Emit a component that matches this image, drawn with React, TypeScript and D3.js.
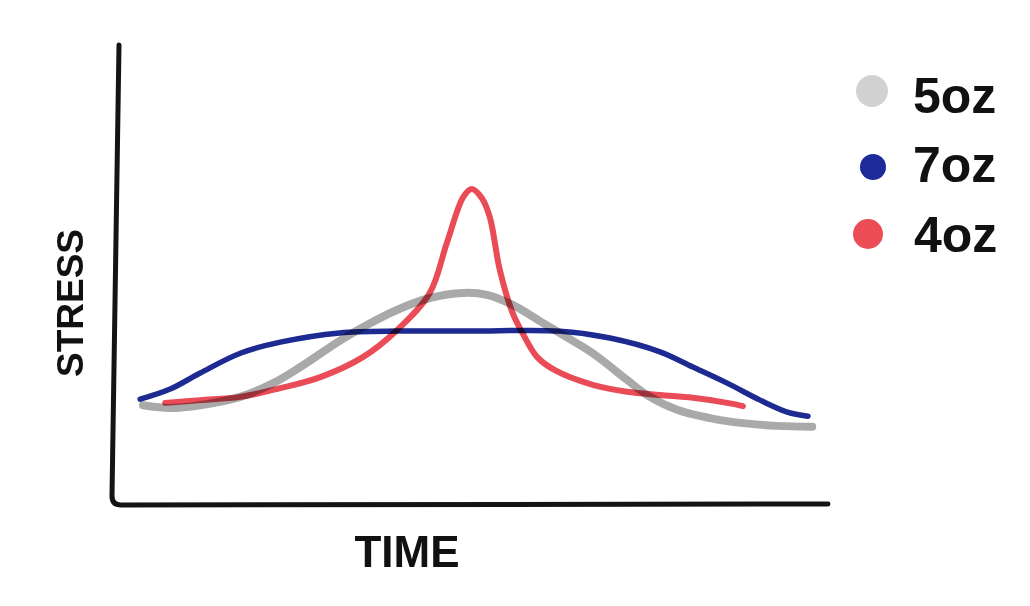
import React from "react";
import * as d3 from "d3";

// Time (0-100) and stress (0-100)
const series7ozTime = [3.8, 8, 12.2, 17.8, 23.4, 31.7, 40.1, 49.9, 62.5, 69.5, 76.5, 81.1, 85.9, 90.5, 94.3, 97.2];
const series7ozStress = [23.0, 25.2, 28.7, 33.0, 35.4, 37.4, 37.8, 37.8, 37.8, 36.3, 33.3, 30.0, 26.5, 22.8, 20.2, 19.3];

const series5ozTime = [4.2, 8.0, 12.2, 17.8, 22.4, 26.2, 31.7, 35.0, 39.7, 44.3, 49.0, 52.3, 55.9, 60.1, 63.2, 67.1, 71.9, 74.7, 78.9, 83.5, 88.1, 92.9, 97.8];
const series5ozStress = [21.7, 21.1, 21.7, 23.5, 26.5, 30.0, 35.7, 38.7, 42.4, 45.0, 46.1, 45.7, 43.5, 39.6, 36.7, 33.0, 27.2, 23.9, 20.7, 18.9, 17.8, 17.2, 17.0];

const series4ozTime = [7.3, 12.2, 17.8, 23.4, 29.0, 35.0, 39.7, 44.3, 46.7, 49.0, 50.2, 51.6, 52.7, 54.1, 55.9, 57.2, 59.3, 61.8, 67.1, 71.9, 76.5, 81.1, 85.9, 88.1];
const series4ozStress = [22.2, 22.8, 23.5, 25.4, 27.8, 32.2, 38.0, 46.1, 57.0, 67.0, 68.7, 66.7, 62.6, 51.1, 41.7, 37.6, 32.2, 29.3, 26.1, 24.6, 23.9, 23.3, 22.2, 21.5];

const legendLabels = ["5oz", "7oz", "4oz"];
const xAxisLabel = "TIME";
const yAxisLabel = "STRESS";

const W = 1030;
const H = 606;
const FONT = "'Liberation Sans', Arial, sans-serif";

export default function App() {
  const x = d3.scaleLinear().domain([0, 100]).range([113, 828]);
  const y = d3.scaleLinear().domain([0, 100]).range([505, 45]);

  const line = d3
    .line<[number, number]>()
    .x((d) => x(d[0]))
    .y((d) => y(d[1]))
    .curve(d3.curveCatmullRom.alpha(0.5));

  const zip = (t: number[], s: number[]) => t.map((v, i) => [v, s[i]] as [number, number]);

  const series = [
    { key: "7oz", data: zip(series7ozTime, series7ozStress), color: "#1c2a92", width: 5.5 },
    { key: "5oz", data: zip(series5ozTime, series5ozStress), color: "#a9a9a9", width: 8 },
    { key: "4oz", data: zip(series4ozTime, series4ozStress), color: "#e94b57", width: 6 },
  ];

  const legend = [
    { label: legendLabels[0], color: "#d2d2d2", cx: 872, cy: 91, r: 16, tx: 913, ty: 113 },
    { label: legendLabels[1], color: "#1c2a9a", cx: 873, cy: 167, r: 13, tx: 913, ty: 182 },
    { label: legendLabels[2], color: "#ec4c55", cx: 868, cy: 234, r: 15, tx: 914, ty: 252 },
  ];

  const [x0, x1] = x.range();
  const [y0, y1] = y.range();
  const axisPath = `M${x0 + 6},${y1} L${x0 - 1},${y0 - 9} Q${x0 - 1},${y0} ${x0 + 8},${y0} L${x1},${y0 - 1}`;

  return (
    <svg
      width={W}
      height={H}
      style={{ position: "absolute", left: 0, top: 0, background: "#fff" }}
    >
      <rect x={0} y={0} width={W} height={H} fill="#fff" />
      <path d={axisPath} fill="none" stroke="#141414" strokeWidth={5} strokeLinecap="round" strokeLinejoin="round" />
      {series.map((s) => (
        <path
          key={s.key}
          d={line(s.data) || ""}
          fill="none"
          stroke={s.color}
          strokeWidth={s.width}
          strokeLinecap="round"
          strokeLinejoin="round"
          style={{ mixBlendMode: "multiply" }}
        />
      ))}
      <text
        x={407}
        y={567}
        textAnchor="middle"
        fontFamily={FONT}
        fontWeight="bold"
        fontSize={44}
        fill="#111"
      >
        {xAxisLabel}
      </text>
      <text
        transform={`translate(83,303) rotate(-90)`}
        textAnchor="middle"
        fontFamily={FONT}
        fontWeight="bold"
        fontSize={37}
        fill="#111"
      >
        {yAxisLabel}
      </text>
      {legend.map((l) => (
        <g key={l.label}>
          <circle cx={l.cx} cy={l.cy} r={l.r} fill={l.color} />
          <text x={l.tx} y={l.ty} fontFamily={FONT} fontWeight="bold" fontSize={50} fill="#111">
            {l.label}
          </text>
        </g>
      ))}
    </svg>
  );
}
